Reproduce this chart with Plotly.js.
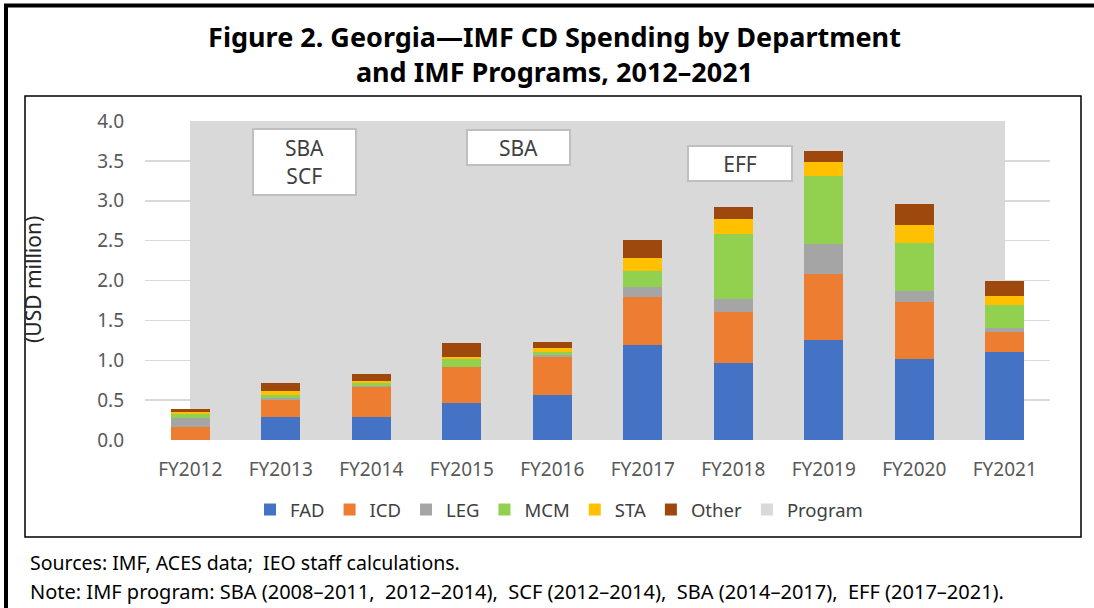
<!DOCTYPE html>
<html>
<head>
<meta charset="utf-8">
<script src="https://cdn.plot.ly/plotly-3.0.1.min.js"></script>
<style>
  html, body { margin: 0; padding: 0; background: #ffffff; }
  #chart { width: 1094px; height: 608px; }
</style>
</head>
<body>
<div id="chart"></div>
<script>
// ---- Data (USD million) ----
const years = ["FY2012","FY2013","FY2014","FY2015","FY2016","FY2017","FY2018","FY2019","FY2020","FY2021"];
const FAD   = [0.00, 0.29, 0.29, 0.47, 0.565, 1.19, 0.97, 1.26, 1.015, 1.10];
const ICD   = [0.16, 0.21, 0.37, 0.44, 0.47,  0.60, 0.63, 0.82, 0.71,  0.26];
const LEG   = [0.12, 0.03, 0.02, 0.01, 0.03,  0.125,0.17, 0.375,0.14,  0.045];
const MCM   = [0.05, 0.03, 0.03, 0.09, 0.035, 0.21, 0.81, 0.86, 0.60,  0.29];
const STA   = [0.02, 0.06, 0.03, 0.035,0.05,  0.16, 0.19, 0.175,0.225, 0.11];
const Other = [0.035,0.095,0.085,0.17, 0.08,  0.22, 0.155,0.14, 0.27,  0.19];
const Program = [4.0, 4.0, 4.0, 4.0, 4.0, 4.0, 4.0, 4.0, 4.0, 4.0];
const yTicks = [0, 0.5, 1.0, 1.5, 2.0, 2.5, 3.0, 3.5, 4.0];
const yTickText = ["0.0","0.5","1.0","1.5","2.0","2.5","3.0","3.5","4.0"];
const programLabels = ["SBA<br>SCF", "SBA", "EFF"];

const seriesNames = ["FAD","ICD","LEG","MCM","STA","Other"];
const seriesData  = [FAD, ICD, LEG, MCM, STA, Other];
const seriesColors = ["#4472c4","#ed7d31","#a5a5a5","#92d050","#ffc000","#9e480e"];

// ---- Geometry helpers (pixel -> paper) ----
const W = 1094, H = 608;
const M = {l: 145, r: 44, t: 121, b: 168};
const PW = W - M.l - M.r, PH = H - M.t - M.b;
const px = x => (x - M.l) / PW;
const py = y => (H - M.b - y) / PH;

const FONT = "Noto Sans, Open Sans, sans-serif";
const SP = "\u00a0 "; // preserved double space

const traces = [];
// Program band: base subplot, each bar spans from one category centre to the next
traces.push({
  type: "bar", x: years, y: Program, name: "Program",
  xaxis: "x", yaxis: "y",
  marker: {color: "#d9d9d9", line: {width: 0}},
  offset: 0, width: years.map((_, i) => (i < years.length - 1 ? 1 : 0)),
  legendrank: 2000, hoverinfo: "skip"
});
// Department bars on an overlaid subplot so they sit above the band
seriesNames.forEach((n, i) => {
  traces.push({
    type: "bar", x: years, y: seriesData[i], name: n,
    xaxis: "x2", yaxis: "y2",
    marker: {color: seriesColors[i], line: {width: 0}},
    width: 0.43, legendrank: 100 + i
  });
});

const boxStyle = {
  xref: "paper", yref: "paper", xanchor: "center", yanchor: "middle",
  showarrow: false, bgcolor: "#ffffff", bordercolor: "#bfbfbf", borderwidth: 2, borderpad: 0,
  font: {family: FONT, size: 21, color: "#404040"}
};

const annotations = [
  {text: "(USD million)", xref: "paper", yref: "paper", x: px(33), y: py(280),
   xanchor: "center", yanchor: "middle",
   textangle: -90, showarrow: false, font: {family: FONT, size: 21, color: "#262626"}},
  Object.assign({}, boxStyle, {text: programLabels[0], x: px(304.5), y: py(162), width: 101, height: 64}),
  Object.assign({}, boxStyle, {text: programLabels[1], x: px(518.5), y: py(147.5), width: 101, height: 33}),
  Object.assign({}, boxStyle, {text: programLabels[2], x: px(740), y: py(163.5), width: 102, height: 33}),
  {text: "Sources: IMF, ACES data;" + SP + "IEO staff calculations.", xref: "paper", yref: "paper",
   x: px(28), y: py(562), xanchor: "left", yanchor: "middle", showarrow: false,
   font: {family: FONT, size: 19.5, color: "#000000"}},
  {text: "Note: IMF program: SBA (2008–2011," + SP + "2012–2014)," + SP + "SCF (2012–2014)," + SP +
         "SBA (2014–2017)," + SP + "EFF (2017–2021).",
   xref: "paper", yref: "paper", x: px(28), y: py(591), xanchor: "left", yanchor: "middle", showarrow: false,
   font: {family: FONT, size: 20, color: "#000000"}}
];

const shapes = [
  // outer frame (left + top, thick black)
  {type: "line", xref: "paper", yref: "paper", x0: px(6), x1: px(6), y0: py(4), y1: py(620),
   line: {color: "#000000", width: 4}},
  {type: "line", xref: "paper", yref: "paper", x0: px(4), x1: px(1100), y0: py(5.5), y1: py(5.5),
   line: {color: "#000000", width: 4}},
  // inner chart box
  {type: "rect", xref: "paper", yref: "paper", x0: px(25), x1: px(1081), y0: py(96), y1: py(537),
   line: {color: "#000000", width: 1.5}, fillcolor: "rgba(0,0,0,0)", layer: "below"}
];

const catRange = [-0.5, years.length - 0.5];

const layout = {
  width: W, height: H,
  margin: M,
  paper_bgcolor: "#ffffff", plot_bgcolor: "#ffffff",
  barmode: "stack",
  title: {
    text: "<b>Figure 2. Georgia—IMF CD Spending by Department<br>and IMF Programs, 2012–2021</b>",
    x: 554.5 / W, xanchor: "center", xref: "container",
    y: 1 - 47 / H, yanchor: "middle", yref: "container",
    font: {family: FONT, size: 27, color: "#000000"}
  },
  xaxis: {
    type: "category", range: catRange, showgrid: false, zeroline: false, showline: false,
    tickfont: {family: FONT, size: 19, color: "#595959"}, ticklabelstandoff: 16,
    fixedrange: true
  },
  yaxis: {
    range: [0, 4.0], tickvals: yTicks, ticktext: yTickText,
    showgrid: true, gridcolor: "#d9d9d9", gridwidth: 1.5, zeroline: false, showline: false,
    tickfont: {family: FONT, size: 19, color: "#595959"}, ticklabelstandoff: 20,
    fixedrange: true
  },
  xaxis2: {
    type: "category", range: catRange, overlaying: "x", anchor: "y2", visible: false, fixedrange: true
  },
  yaxis2: {
    range: [0, 4.0], overlaying: "y", anchor: "x2", visible: false, fixedrange: true
  },
  showlegend: true,
  legend: {
    orientation: "h", x: px(559), xanchor: "center", y: py(510), yanchor: "middle",
    font: {family: FONT, size: 18.5, color: "#404040"},
    traceorder: "normal", itemwidth: 30, bgcolor: "rgba(0,0,0,0)"
  },
  annotations: annotations,
  shapes: shapes
};

Plotly.newPlot("chart", traces, layout, {displayModeBar: false, staticPlot: true});
</script>
</body>
</html>
